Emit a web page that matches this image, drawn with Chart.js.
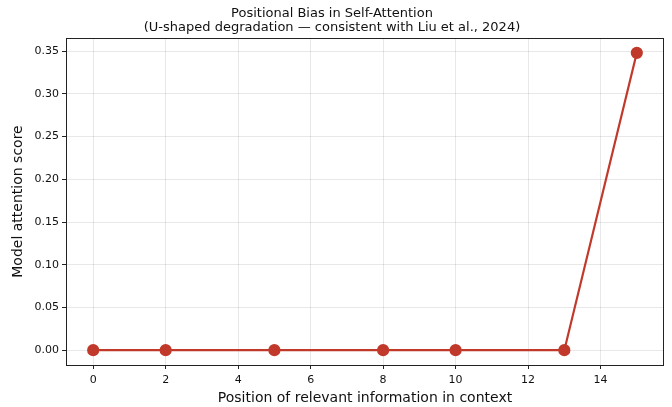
<!DOCTYPE html>
<html>
<head>
<meta charset="utf-8">
<script src="https://cdn.jsdelivr.net/npm/chart.js@4"></script>
<style>
  html, body { margin: 0; padding: 0; background: #fff; }
  #wrap { width: 672px; height: 407px; }
</style>
</head>
<body>
<div id="wrap"><canvas id="chart"></canvas></div>
<script>
// data
const positions = [0, 2, 5, 8, 10, 13, 15];
const scores = [0, 0, 0, 0, 0, 0, 0.348];
const xTicks = [0, 2, 4, 6, 8, 10, 12, 14];
const yTicks = [0, 0.05, 0.10, 0.15, 0.20, 0.25, 0.30, 0.35];

const red = '#c0392b';
const font = 'DejaVu Sans';

// black frame round the plot area, like matplotlib spines
const frame = {
  id: 'frame',
  afterDraw(chart) {
    const a = chart.chartArea, ctx = chart.ctx;
    ctx.save();
    ctx.strokeStyle = '#222';
    ctx.lineWidth = 1;
    ctx.strokeRect(a.left + 0.5, a.top + 0.5, a.right - a.left - 1, a.bottom - a.top);
    ctx.restore();
  }
};

new Chart(document.getElementById('chart'), {
  type: 'line',
  data: {
    datasets: [{
      data: positions.map((x, i) => ({x: x, y: scores[i]})),
      borderColor: red,
      backgroundColor: red,
      borderWidth: 2.2,
      pointRadius: 5,
      pointHoverRadius: 5,
      tension: 0
    }]
  },
  options: {
    responsive: true,
    maintainAspectRatio: false,
    animation: false,
    layout: { padding: { left: 0, right: 8, top: 0, bottom: 0 } },
    plugins: {
      legend: { display: false },
      tooltip: { enabled: false },
      title: {
        display: true,
        text: ['Positional Bias in Self-Attention', '(U-shaped degradation \u2014 consistent with Liu et al., 2024)'],
        color: '#111',
        font: { family: font, size: 13, weight: 'normal', lineHeight: 1.1 },
        padding: { top: 6, bottom: 3.4 }
      }
    },
    scales: {
      x: {
        type: 'linear',
        min: -0.75,
        max: 15.75,
        afterBuildTicks: s => { s.ticks = xTicks.map(v => ({value: v})); },
        afterFit: s => { s.height = 42; },
        grid: { color: 'rgba(0,0,0,0.09)', tickColor: '#222', tickLength: 4, drawTicks: true },
        border: { display: false },
        ticks: { color: '#111', font: { family: font, size: 11 }, padding: 5, maxRotation: 0,
          callback: v => String(v) },
        title: { display: true, text: 'Position of relevant information in context', color: '#111',
          font: { family: font, size: 14 }, padding: { top: 1, bottom: 0 } }
      },
      y: {
        min: -0.0174,
        max: 0.3654,
        afterBuildTicks: s => { s.ticks = yTicks.map(v => ({value: v})); },
        afterFit: s => { s.width = 66; },
        grid: { color: 'rgba(0,0,0,0.09)', tickColor: '#222', tickLength: 4, drawTicks: true },
        border: { display: false },
        ticks: { color: '#111', font: { family: font, size: 11 }, padding: 3,
          callback: v => v.toFixed(2) },
        title: { display: true, text: 'Model attention score', color: '#111',
          font: { family: font, size: 14 }, padding: { top: 10, bottom: 0 } }
      }
    }
  },
  plugins: [frame]
});
</script>
</body>
</html>
